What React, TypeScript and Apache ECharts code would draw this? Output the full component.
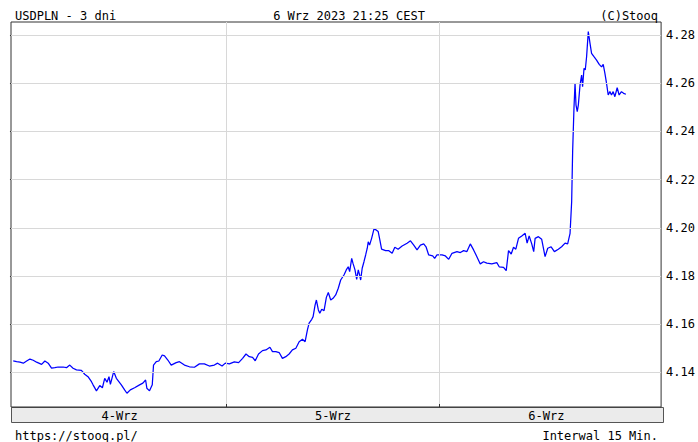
import React, { useEffect, useRef } from "react";
import * as echarts from "echarts";

// hours since 00:00 on 4-Wrz
const hours = [
  0.03, 0.41, 0.79, 1.16, 1.54, 1.91, 2.28, 2.66, 3.22, 3.59, 3.96, 4.34, 4.71, 5.08, 5.64, 6.02, 6.39, 6.76, 7.14, 7.7,
  8.07, 8.44, 8.83, 9.01, 9.39, 9.76, 10.06, 10.32, 10.58, 10.8, 10.96, 11.33, 11.63, 12.19, 12.56, 12.82, 13.2, 13.68, 14.24, 14.61,
  14.92, 15.06, 15.36, 15.67, 15.81, 16.12, 16.41, 16.79, 17.05, 17.42, 17.8, 18.36, 18.73, 19.29, 19.85, 20.41, 20.97, 21.53, 22.09, 22.65,
  23.02, 23.52, 23.89, 24.34, 24.9, 25.38, 25.83, 26.21, 26.58, 26.95, 27.25, 27.62, 28.07, 28.45, 28.9, 29.19, 29.57, 29.94, 30.31, 30.69,
  31.06, 31.43, 31.82, 32.19, 32.56, 32.86, 33.12, 33.31, 33.61, 33.76, 33.98, 34.13, 34.35, 34.51, 34.73, 34.99, 35.25, 35.47, 35.74, 36.0,
  36.3, 36.59, 36.86, 37.23, 37.49, 37.71, 37.87, 38.1, 38.24, 38.47, 38.66, 38.84, 38.99, 39.11, 39.28, 39.48, 39.67, 39.85, 39.96, 40.11,
  40.34, 40.6, 40.85, 41.08, 41.27, 41.46, 41.91, 42.28, 42.65, 42.95, 43.32, 43.77, 44.33, 44.71, 45.08, 45.45, 45.83, 46.2, 46.46, 46.76,
  47.21, 47.43, 47.69, 48.26, 48.64, 49.01, 49.38, 49.94, 50.32, 50.69, 51.06, 51.44, 51.81, 52.18, 52.56, 52.93, 53.3, 53.86, 54.42, 54.69,
  55.18, 55.48, 55.74, 56.04, 56.3, 56.56, 56.86, 57.23, 57.61, 57.83, 58.06, 58.35, 58.57, 58.73, 59.1, 59.47, 59.85, 60.15, 60.53, 60.9,
  61.34, 61.71, 62.1, 62.39, 62.66, 62.84, 62.95, 63.1, 63.22, 63.33, 63.47, 63.59, 63.78, 63.96, 64.07, 64.23, 64.37, 64.52, 64.71, 64.9,
  65.08, 65.35, 65.64, 65.94, 66.2, 66.39, 66.58, 66.76, 66.95, 67.14, 67.32, 67.51, 67.7, 67.96, 68.18, 68.44, 68.68, 68.94,
];

const rates = [
  4.1447, 4.1444, 4.1442, 4.1438, 4.1447, 4.1455, 4.145, 4.1442, 4.1433, 4.1447, 4.1438, 4.1417, 4.1419, 4.1422, 4.1422, 4.1419, 4.143, 4.1417, 4.141, 4.1408,
  4.1392, 4.1382, 4.1361, 4.1348, 4.1323, 4.1345, 4.1336, 4.1375, 4.1359, 4.1382, 4.135, 4.1403, 4.1375, 4.1348, 4.1327, 4.1313, 4.1327, 4.1336, 4.1348, 4.1355,
  4.1368, 4.1334, 4.1323, 4.1348, 4.143, 4.1444, 4.1447, 4.1472, 4.1468, 4.1451, 4.143, 4.144, 4.1444, 4.143, 4.1423, 4.1421, 4.1435, 4.1435, 4.1426, 4.143,
  4.1438, 4.1426, 4.1438, 4.1435, 4.1443, 4.144, 4.1458, 4.1476, 4.1465, 4.1462, 4.1448, 4.1476, 4.149, 4.1493, 4.1504, 4.1486, 4.1486, 4.1482, 4.1458, 4.1465,
  4.1476, 4.1493, 4.15, 4.1527, 4.1537, 4.1527, 4.1576, 4.1604, 4.162, 4.1631, 4.1679, 4.17, 4.1659, 4.1645, 4.1662, 4.1656, 4.1711, 4.1731, 4.17, 4.1707,
  4.1721, 4.1749, 4.1783, 4.1804, 4.1825, 4.1838, 4.1818, 4.1873, 4.1853, 4.1825, 4.1786, 4.1825, 4.1804, 4.1783, 4.1832, 4.1859, 4.1887, 4.1915, 4.1942, 4.1928,
  4.1956, 4.1994, 4.1991, 4.1984, 4.1949, 4.1911, 4.1905, 4.1905, 4.1894, 4.1919, 4.1911, 4.1924, 4.1936, 4.1946, 4.1928, 4.1908, 4.1928, 4.1933, 4.1921, 4.1887,
  4.1883, 4.1873, 4.1887, 4.1887, 4.1883, 4.1869, 4.1894, 4.1901, 4.1897, 4.1905, 4.1901, 4.1933, 4.1908, 4.188, 4.185, 4.1859, 4.1853, 4.185, 4.1855, 4.1838,
  4.1836, 4.1822, 4.1905, 4.1891, 4.1919, 4.1911, 4.1956, 4.1966, 4.1977, 4.1936, 4.1966, 4.1933, 4.1901, 4.1956, 4.1963, 4.1952, 4.188, 4.1915, 4.1921, 4.1901,
  4.1911, 4.1921, 4.1936, 4.1933, 4.1977, 4.2108, 4.2316, 4.2496, 4.26, 4.2509, 4.2482, 4.2509, 4.2592, 4.2634, 4.2585, 4.2662, 4.2655, 4.271, 4.2814, 4.2766,
  4.2724, 4.271, 4.2696, 4.2678, 4.2668, 4.2678, 4.2641, 4.26, 4.2551, 4.2565, 4.2551, 4.2565, 4.2544, 4.2581, 4.2551, 4.2565, 4.2558, 4.2554,
];

const dayLabels = ["4-Wrz", "5-Wrz", "6-Wrz"];
const dayCenters = [12, 36, 60];
const dayBoundaries = [24, 48];
const yTicks = [4.14, 4.16, 4.18, 4.2, 4.22, 4.24, 4.26, 4.28];

const FONT = "DejaVu Sans Mono";

export default function App() {
  const ref = useRef<HTMLDivElement>(null);
  useEffect(() => {
    if (!ref.current) return;
    const chart = echarts.init(ref.current, null, { renderer: "svg" });
    const pairs = hours.map((h, i) => [h, rates[i]]);
    const txt = { fontFamily: FONT, fontSize: 12, fontWeight: "normal" as const, color: "#000" };
    chart.setOption({
      animation: false,
      backgroundColor: "#fff",
      title: [
        { text: "USDPLN - 3 dni", left: 10, top: 5, textStyle: txt },
        { text: "6 Wrz 2023 21:25 CEST", left: "center", top: 5, textStyle: txt },
        { text: "(C)Stooq", right: 35, top: 5, textStyle: txt },
        { text: "https://stooq.pl/", left: 10, top: 425, textStyle: txt },
        { text: "Interwal 15 Min.", right: 35, top: 425, textStyle: txt },
      ],
      grid: { left: 11, top: 22, right: 35, bottom: 35, show: true, borderColor: "#333", borderWidth: 1, backgroundColor: "#fff" },
      graphic: [
        {
          type: "rect",
          left: 11,
          top: 407,
          z: -1,
          shape: { width: 652, height: 15 },
          style: { fill: "#ebebeb", stroke: "#555", lineWidth: 1 },
        },
      ],
      xAxis: [
        {
          type: "value",
          min: -0.22,
          max: 72.9,
          z: 10,
          axisLine: { show: false },
          splitLine: { show: false },
          axisTick: { show: true, inside: true, length: 3, customValues: dayBoundaries, lineStyle: { color: "#333" } },
          axisLabel: {
            customValues: dayCenters,
            margin: 3,
            fontFamily: FONT,
            fontSize: 12,
            color: "#000",
            formatter: (v: number) => dayLabels[Math.round((v - 12) / 24)] ?? "",
          },
        },
        {
          type: "value",
          position: "top",
          min: -0.22,
          max: 72.9,
          axisLine: { show: false },
          splitLine: { show: false },
          axisTick: { show: true, inside: true, length: 3, customValues: dayBoundaries, lineStyle: { color: "#333" } },
          axisLabel: { show: false },
        },
      ],
      yAxis: [
        {
          type: "value",
          position: "right",
          min: 4.1256,
          max: 4.2854,
          axisLine: { show: false },
          splitLine: { show: false },
          axisTick: { show: true, inside: true, length: 3, customValues: yTicks, lineStyle: { color: "#333" } },
          axisLabel: {
            customValues: yTicks,
            margin: 5,
            fontFamily: FONT,
            fontSize: 12,
            color: "#000",
            formatter: (v: number) => v.toFixed(2),
          },
        },
        {
          type: "value",
          position: "left",
          min: 4.1256,
          max: 4.2854,
          axisLine: { show: false },
          splitLine: { show: false },
          axisTick: { show: true, inside: true, length: 3, customValues: yTicks, lineStyle: { color: "#333" } },
          axisLabel: { show: false },
        },
      ],
      series: [
        {
          type: "line",
          z: 1,
          data: pairs,
          symbol: "none",
          silent: true,
          lineStyle: { opacity: 0 },
          markLine: {
            silent: true,
            symbol: ["none", "none"],
            label: { show: false },
            lineStyle: { color: "#d8d8d8", type: "solid", width: 1 },
            data: [
              ...yTicks.map((v) => ({ yAxis: v })),
              ...dayBoundaries.map((h) => ({ xAxis: h })),
            ],
          },
        },
        {
          type: "line",
          z: 3,
          data: pairs,
          symbol: "none",
          lineStyle: { color: "#0000ff", width: 1.25 },
        },
      ],
    });
    return () => chart.dispose();
  }, []);
  return <div ref={ref} style={{ position: "fixed", left: 0, top: 0, width: 698, height: 442 }} />;
}
